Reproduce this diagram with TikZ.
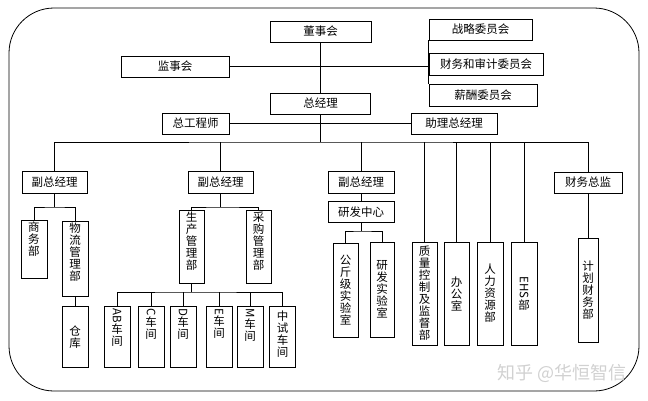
\documentclass[tikz,border=0pt]{standalone}
\usepackage{fontspec}
\usepackage{graphicx}
\usepackage{tikz}
\usetikzlibrary{positioning}
\newfontfamily\cjk{Noto Sans CJK SC}
\newcommand{\vst}[3]{\parbox[c][#1][#2]{14pt}{\centering #3}}
\newcommand{\lat}[1]{\rotatebox{-90}{#1}}

\begin{document}
\begin{tikzpicture}
              [x=1pt,y=-1pt,line width=0.8pt,
                every node/.style={rectangle,draw,font=\cjk\fontsize{11.5}{12}\selectfont,inner sep=0pt,minimum height=21pt,line width=0.8pt},
                faint/.style={draw=none,fill=none,text=black!18,font=\cjk\fontsize{18}{18}\selectfont}]
              \useasboundingbox (0,0) rectangle (648,400);
              \draw[rounded corners=45pt] (9,8) rectangle (639,391);
              \node[minimum width=101pt] (n0) at (320.5,31.5) {董事会};
              \node[minimum width=108pt] (n1) at (175,66.5) {监事会};
              \node[minimum width=103pt] (n2) at (480.5,29.5) {战略委员会};
              \node[minimum width=114pt,minimum height=22pt] (n3) at (486,64) {财务和审计委员会};
              \node[minimum width=108pt,minimum height=22pt] (n4) at (483,95) {薪酬委员会};
              \node[minimum width=100pt] (n5) at (320.5,103.5) {总经理};
              \node[minimum width=67pt] (n6) at (195.5,123.5) {总工程师};
              \node[minimum width=86pt] (n7) at (454,123.5) {助理总经理};
              \node[minimum width=65pt,minimum height=22pt] (n8) at (54.5,182) {副总经理};
              \node[minimum width=65pt,minimum height=22pt] (n9) at (220.5,182) {副总经理};
              \node[minimum width=66pt,minimum height=22pt] (n10) at (361,182) {副总经理};
              \node[minimum width=68pt] (n11) at (588,182.5) {财务总监};
              \node[minimum width=66pt,below=8pt of n10] (n12) {研发中心};
              \coordinate (b0) at (320.5,142);
              \coordinate (b1) at (54.5,207);
              \coordinate (b2) at (220.5,207);
              \coordinate (b3) at (191.5,292);
              \coordinate (b4) at (361,231);
              \node[minimum width=26pt] (n13) at (34,249) {\vst{58pt}{t}{\vspace*{2pt}商\\务\\部}};
              \node[minimum width=26pt] (n14) at (75,258.5) {\vst{75pt}{t}{\vspace*{2pt}物\\流\\管\\理\\部}};
              \node[minimum width=26pt,below=10pt of n14] (n15) {\vst{61pt}{c}{仓\\库}};
              \node[minimum width=25pt] (n16) at (191.5,246.5) {\vst{73pt}{t}{\vspace*{2pt}生\\产\\管\\理\\部}};
              \node[minimum width=25pt] (n17) at (258.5,246.5) {\vst{73pt}{t}{\vspace*{2pt}采\\购\\管\\理\\部}};
              \node[minimum width=26pt] (n18) at (117,336.5) {\vst{61pt}{t}{\vspace*{2pt}\lat{AB}\\车\\间}};
              \node[minimum width=26pt] (n19) at (151,336.5) {\vst{61pt}{t}{\vspace*{2pt}\lat{C}\\车\\间}};
              \node[minimum width=26pt] (n20) at (183,336.5) {\vst{61pt}{t}{\vspace*{2pt}\lat{D}\\车\\间}};
              \node[minimum width=26pt] (n21) at (219,336.5) {\vst{61pt}{t}{\vspace*{2pt}\lat{E}\\车\\间}};
              \node[minimum width=26pt] (n22) at (250,336.5) {\vst{61pt}{t}{\vspace*{2pt}\lat{M}\\车\\间}};
              \node[minimum width=26pt] (n23) at (282.5,336.5) {\vst{61pt}{t}{\vspace*{5pt}中\\试\\车\\间}};
              \node[minimum width=25pt] (n24) at (345.5,290) {\vst{94pt}{c}{公\\斤\\级\\实\\验\\室}};
              \node[minimum width=24pt] (n25) at (382,289.5) {\vst{95pt}{c}{研\\发\\实\\验\\室}};
              \node[minimum width=25pt] (n26) at (424.5,293.5) {\vst{103pt}{c}{质\\量\\控\\制\\及\\监\\督\\部}};
              \node[minimum width=25pt] (n27) at (456.5,293.5) {\vst{103pt}{c}{办\\公\\室}};
              \node[minimum width=26pt] (n28) at (490,293.5) {\vst{103pt}{c}{人\\力\\资\\源\\部}};
              \node[minimum width=26pt] (n29) at (524,293.5) {\vst{103pt}{c}{\lat{EHS}\\部}};
              \node[minimum width=20pt] (n30) at (588,290) {\vst{104pt}{c}{计\\划\\财\\务\\部}};
              \draw (n0) -- (n5);
              \draw (n1) -- (n1 -| n3.west);
              \draw (n2.south west) -- (n4.north west);
              \draw (n5) -- (b0);
              \draw (n6) -- (n7);
              \draw (n8) |- (b0) -| (n11);
              \draw (n9) -- (n9 |- b0);
              \draw (n10) -- (n10 |- b0);
              \draw (n26) -- (n26 |- b0);
              \draw (n27) -- (n27 |- b0);
              \draw (n28) -- (n28 |- b0);
              \draw (n29) -- (n29 |- b0);
              \draw (n8) -- (b1);
              \draw (n13) |- (b1) -| (n14);
              \draw (n14) -- (n15);
              \draw (n9) -- (b2);
              \draw (n16) |- (b2) -| (n17);
              \draw (n16) -- (b3);
              \draw (n18) |- (b3) -| (n23);
              \draw (n19) -- (n19 |- b3);
              \draw (n20) -- (n20 |- b3);
              \draw (n21) -- (n21 |- b3);
              \draw (n22) -- (n22 |- b3);
              \draw (n10) -- (n12);
              \draw (n12) -- (b4);
              \draw (n24) |- (b4) -| (n25);
              \draw (n11) -- (n30);
              \node[faint] (n31) at (562,373) {知乎 @华恒智信};
            \end{tikzpicture}
\end{document}
